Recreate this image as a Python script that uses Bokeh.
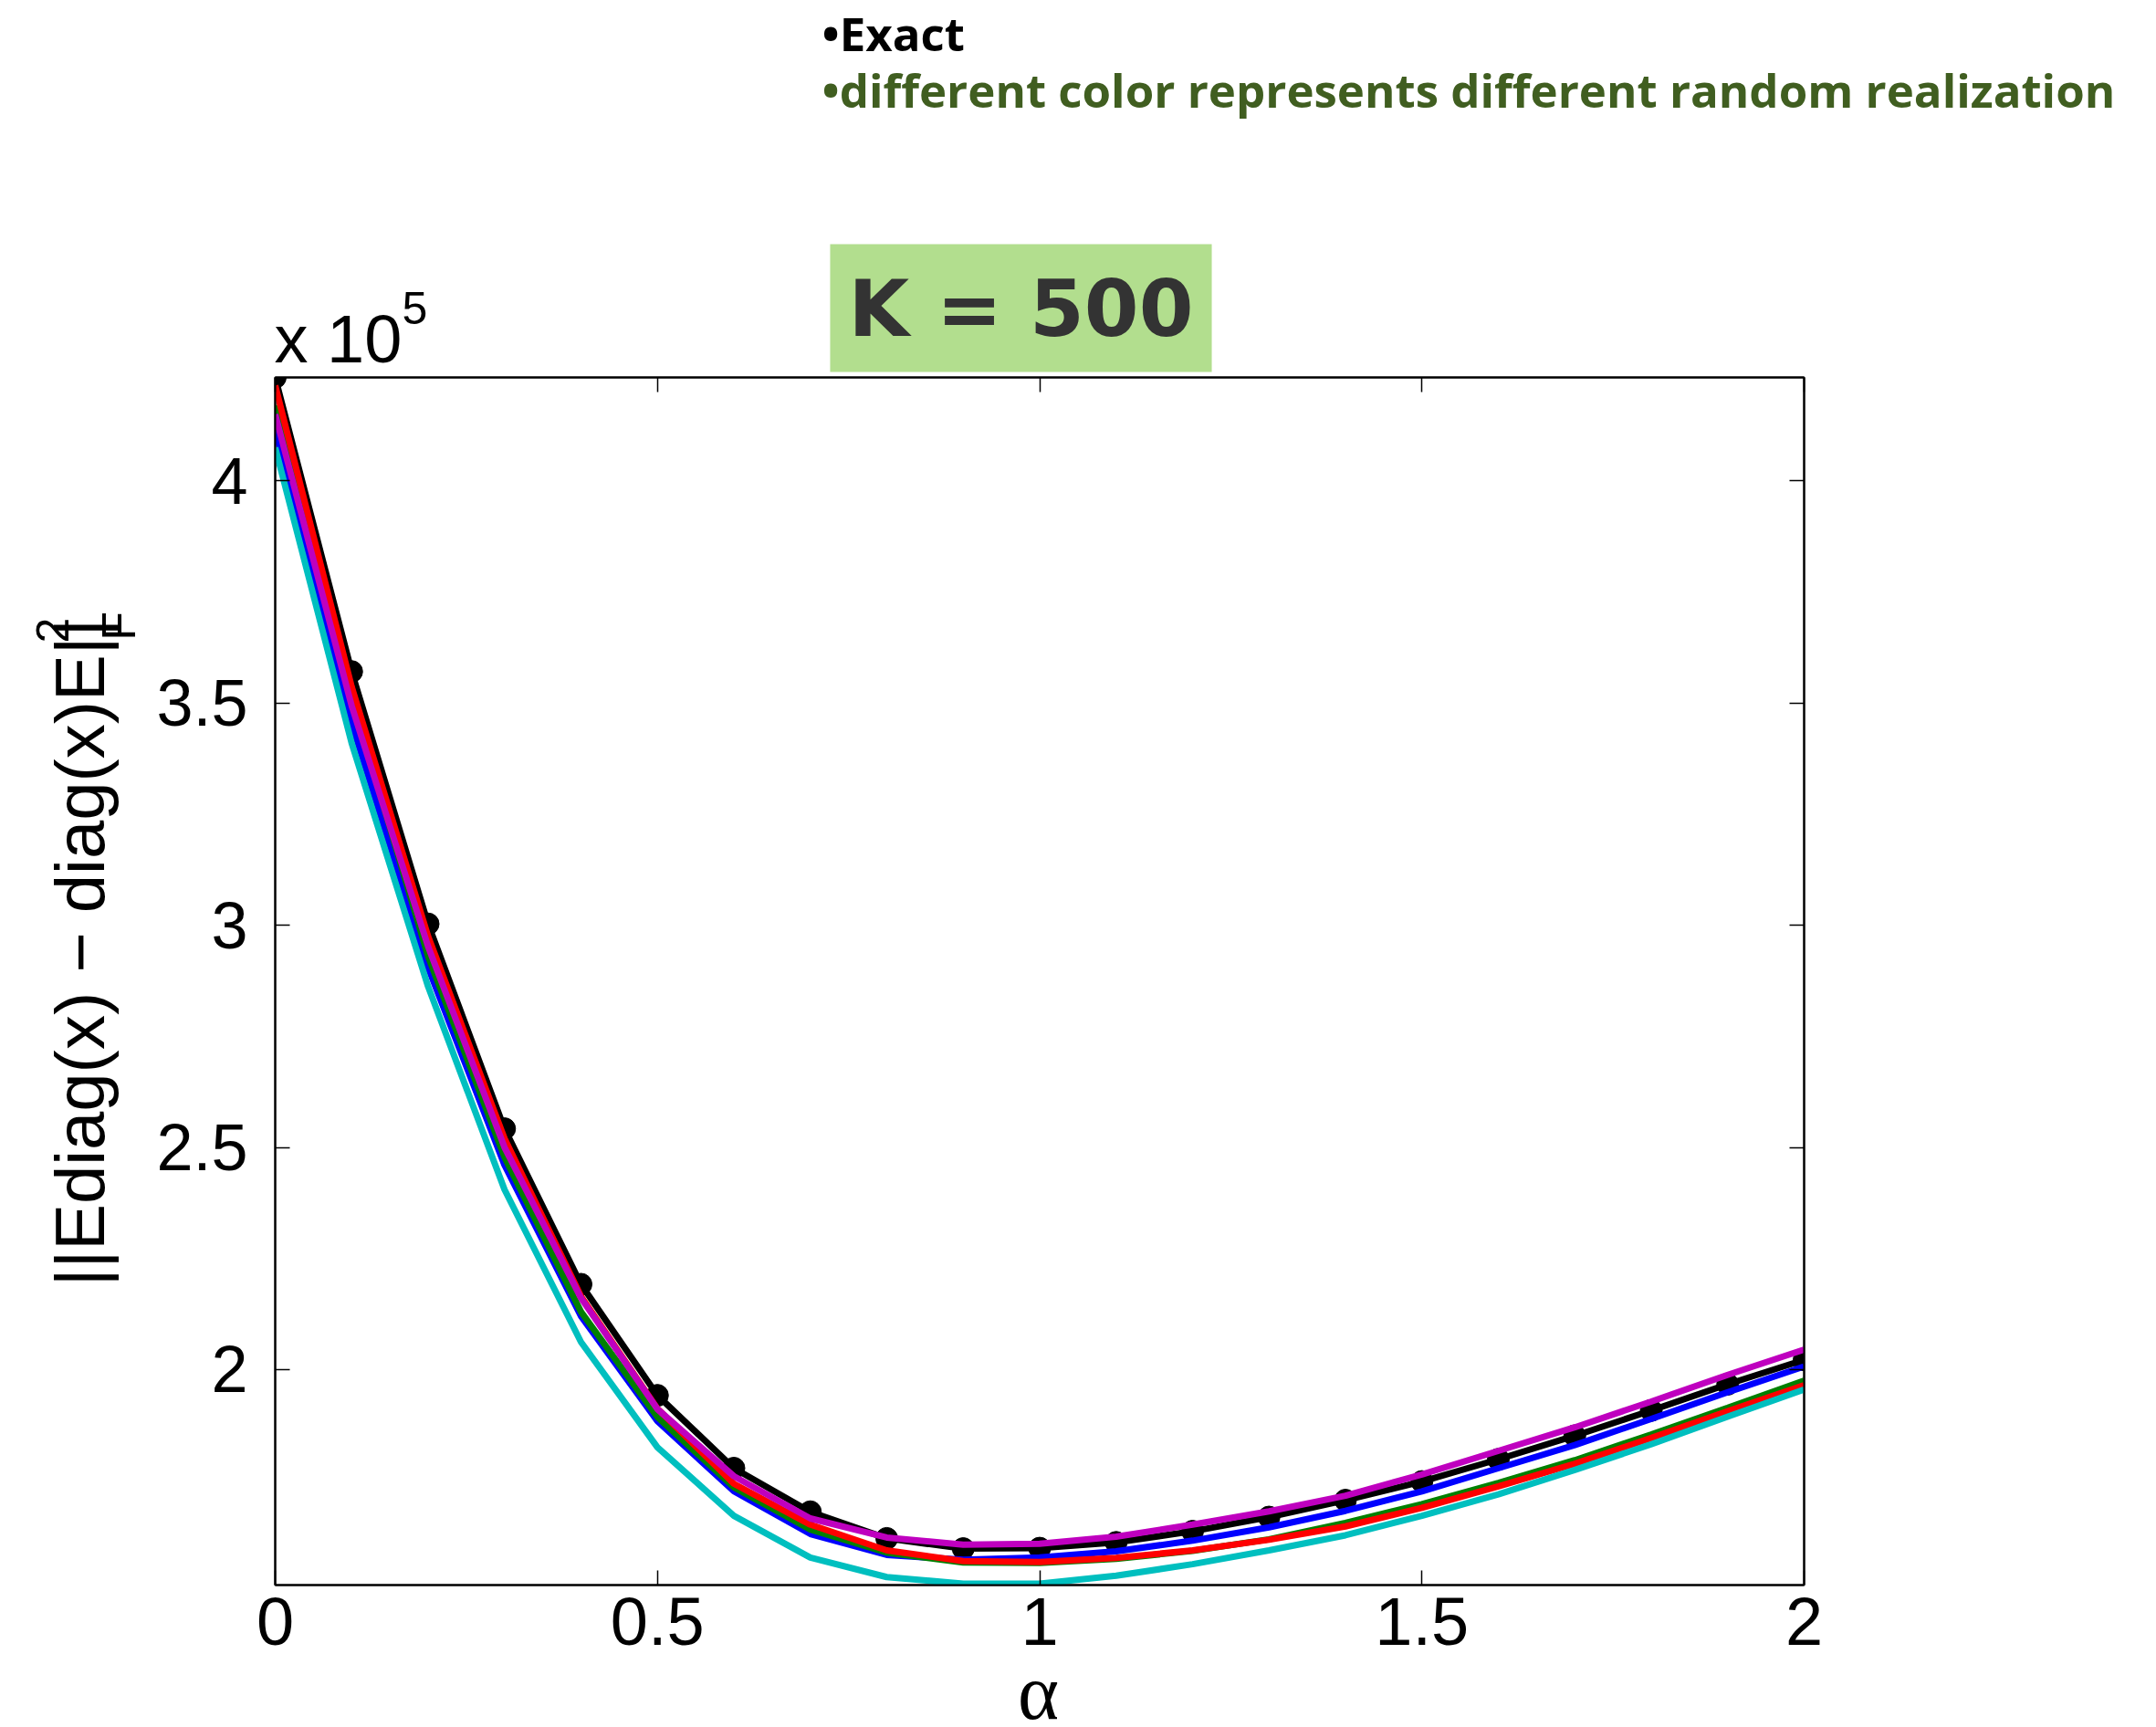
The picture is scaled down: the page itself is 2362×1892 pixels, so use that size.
import math
from bokeh.plotting import figure
from bokeh.layouts import column, row
from bokeh.models import Range1d, LinearAxis, FixedTicker, Label, CustomJSTickFormatter
from bokeh.embed import file_html
from bokeh.resources import INLINE

# ---- data (objective values in units of 1e5) ----
alpha = [0.0, 0.1, 0.2, 0.3, 0.4, 0.5, 0.6, 0.7, 0.8, 0.9, 1.0,
         1.1, 1.2, 1.3, 1.4, 1.5, 1.6, 1.7, 1.8, 1.9, 2.0]

exact = [4.233, 3.571, 3.003, 2.542, 2.192, 1.942, 1.778, 1.680, 1.620, 1.597, 1.598,
         1.611, 1.636, 1.668, 1.706, 1.748, 1.798, 1.851, 1.908, 1.967, 2.022]

run_blue = [4.115, 3.455, 2.905, 2.460, 2.120, 1.884, 1.726, 1.630, 1.583, 1.572, 1.577,
            1.591, 1.615, 1.645, 1.682, 1.726, 1.778, 1.830, 1.889, 1.949, 2.007]
run_green = [4.170, 3.510, 2.930, 2.478, 2.130, 1.893, 1.735, 1.640, 1.588, 1.566, 1.565,
             1.574, 1.592, 1.618, 1.655, 1.697, 1.745, 1.796, 1.854, 1.914, 1.975]
run_red = [4.215, 3.537, 2.975, 2.520, 2.165, 1.912, 1.743, 1.651, 1.593, 1.569, 1.567,
           1.576, 1.593, 1.617, 1.647, 1.689, 1.737, 1.788, 1.846, 1.906, 1.965]
run_cyan = [4.075, 3.410, 2.862, 2.405, 2.062, 1.825, 1.671, 1.577, 1.533, 1.518, 1.518,
            1.536, 1.562, 1.593, 1.627, 1.671, 1.719, 1.774, 1.832, 1.894, 1.955]
run_magenta = [4.150, 3.494, 2.952, 2.500, 2.161, 1.911, 1.760, 1.665, 1.622, 1.606, 1.608,
               1.624, 1.651, 1.681, 1.716, 1.764, 1.817, 1.870, 1.928, 1.988, 2.045]

runs = [(run_blue, "#0000ff"), (run_green, "#008000"), (run_red, "#ff0000"),
        (run_cyan, "#00bfbf"), (run_magenta, "#bf00bf")]

x_ticks = [0, 0.5, 1, 1.5, 2]
x_tick_labels = ["0", "0.5", "1", "1.5", "2"]
y_ticks = [2, 2.5, 3, 3.5, 4]
y_tick_labels = ["2", "2.5", "3", "3.5", "4"]

X_MIN, X_MAX = 0.0, 2.0
Y_MIN, Y_MAX = 1.515, 4.233

# ---- page layout (pixels) ----
W, H = 2362, 1892
HEAD_H = 410          # header strip: legend notes, title box, exponent
FOOT_Y = 1838         # footer strip starts here (x-axis symbol)
YLAB_W = 160          # strip holding the rotated y title
FL, FR, FT, FB = 301, 1976, 413, 1736   # plot frame on the page

MAIN_W = W - YLAB_W
MAIN_H = FOOT_Y - HEAD_H


def text_strip(width, height):
    f = figure(width=width, height=height, x_range=Range1d(0, width), y_range=Range1d(0, height),
               output_backend="svg", toolbar_location=None,
               x_axis_type=None, y_axis_type=None,
               min_border_left=0, min_border_right=0, min_border_top=0, min_border_bottom=0)
    f.grid.visible = False
    f.outline_line_color = None
    f.background_fill_color = "white"
    f.border_fill_color = "white"
    return f


# ---- main plot ----
p = figure(width=MAIN_W, height=MAIN_H,
           x_range=Range1d(X_MIN, X_MAX), y_range=Range1d(Y_MIN, Y_MAX),
           output_backend="svg", toolbar_location=None,
           min_border_left=FL - YLAB_W, min_border_right=W - FR,
           min_border_top=FT - HEAD_H, min_border_bottom=FOOT_Y - FB)
p.grid.visible = False
p.background_fill_color = "white"
p.border_fill_color = "white"
p.outline_line_color = "black"
p.outline_line_width = 2

bottom_axis = p.below[0]
left_axis = p.left[0]

bottom_axis.ticker = FixedTicker(ticks=x_ticks)
bottom_axis.major_label_overrides = dict(zip(x_ticks, x_tick_labels))
bottom_axis.major_label_text_font_size = "74px"
bottom_axis.major_label_standoff = 14

left_axis.ticker = FixedTicker(ticks=y_ticks)
left_axis.major_label_overrides = dict(zip(y_ticks, y_tick_labels))
left_axis.major_label_text_font_size = "72px"
left_axis.major_label_standoff = 30

# mirrored tick marks on top and right (box style), no labels
blank = CustomJSTickFormatter(code="return ''")
top_axis = LinearAxis(ticker=FixedTicker(ticks=x_ticks), formatter=blank,
                      major_label_standoff=0, major_label_text_font_size="0px")
right_axis = LinearAxis(ticker=FixedTicker(ticks=y_ticks), formatter=blank,
                        major_label_standoff=0, major_label_text_font_size="0px")
p.add_layout(top_axis, "above")
p.add_layout(right_axis, "right")

for ax in (bottom_axis, left_axis, top_axis, right_axis):
    ax.axis_line_color = "black"
    ax.axis_line_width = 2
    ax.major_tick_in = 16
    ax.major_tick_out = 0
    ax.major_tick_line_width = 1.5
    ax.major_tick_line_color = "black"
    ax.minor_tick_line_color = None
    ax.major_label_text_font = "Liberation Sans"
    ax.major_label_text_color = "black"

p.line(alpha, exact, line_color="black", line_width=7)
p.scatter(alpha, exact, size=24, fill_color="black", line_color="black")
for vals, col in runs:
    p.line(alpha, vals, line_color=col, line_width=7)

# ---- header strip ----
head = text_strip(W, HEAD_H)


def hy(py):
    return HEAD_H - py


head.add_layout(Label(x=370, y=hy(371), text="x 10", text_font="Liberation Sans",
                      text_font_size="74px", text_color="black",
                      text_align="center", text_baseline="middle"))
head.add_layout(Label(x=454, y=hy(337), text="5", text_font="Liberation Sans",
                      text_font_size="50px", text_color="black",
                      text_align="center", text_baseline="middle"))
head.add_layout(Label(x=1118, y=hy(337), text="K = 500", text_font="DejaVu Sans",
                      text_font_style="bold", text_font_size="86px", text_color="#333333",
                      text_align="center", text_baseline="middle",
                      background_fill_color="#b2de8e", padding=20))
head.add_layout(Label(x=900, y=hy(35), text="\u2022Exact", text_font="Open Sans",
                      text_font_style="bold", text_font_size="51px", text_color="black",
                      text_align="left", text_baseline="middle"))
head.add_layout(Label(x=900, y=hy(97),
                      text="\u2022different color represents different random realization",
                      text_font="Open Sans", text_font_style="bold", text_font_size="51px",
                      text_color="#405e20", text_align="left", text_baseline="middle"))

# ---- y-title strip (rotated text with ^2 and _F) ----
ystrip = text_strip(YLAB_W, MAIN_H)


def sy(py):
    return FOOT_Y - py


ystrip.add_layout(Label(x=87, y=sy(1090), text="||Ediag(x) \u2212 diag(x)E||",
                        text_font="Liberation Sans", text_font_size="76px", text_color="black",
                        angle=math.pi / 2, text_align="center", text_baseline="middle"))
ystrip.add_layout(Label(x=57, y=sy(709), text="2", text_font="Liberation Sans",
                        text_font_size="50px", text_color="black",
                        angle=math.pi / 2, text_align="center", text_baseline="middle"))
ystrip.add_layout(Label(x=129, y=sy(704), text="F", text_font="Liberation Sans",
                        text_font_size="52px", text_color="black",
                        angle=math.pi / 2, text_align="center", text_baseline="middle"))

# ---- footer strip (x-axis symbol) ----
foot = text_strip(W, H - FOOT_Y)
foot.add_layout(Label(x=1137, y=H - 1853, text="\u03b1", text_font="Liberation Serif",
                      text_font_size="86px", text_color="black",
                      text_align="center", text_baseline="middle"))

page = column(head, row(ystrip, p, spacing=0), foot, spacing=0)

open("out.html", "w").write(file_html(page, INLINE))
